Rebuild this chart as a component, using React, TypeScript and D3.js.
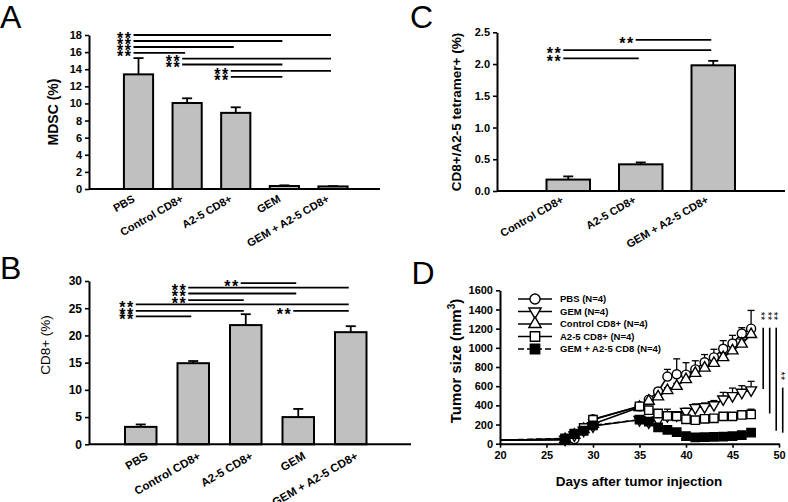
import React, { useEffect, useRef } from 'react';
import * as d3 from 'd3';

const FONT = '"Liberation Sans", Arial, Helvetica, sans-serif';

// ---- panel A / B / C data ----
const groups5 = ['PBS', 'Control CD8+', 'A2-5 CD8+', 'GEM', 'GEM + A2-5 CD8+'];
const groups3 = ['Control CD8+', 'A2-5 CD8+', 'GEM + A2-5 CD8+'];

const mdscMean = [13.4, 10.05, 8.9, 0.35, 0.3];
const mdscErr = [1.9, 0.55, 0.65, 0.08, 0.04];
const mdscTicks = [0, 2, 4, 6, 8, 10, 12, 14, 16, 18];

const cd8Mean = [3.2, 14.9, 21.9, 5.0, 20.6];
const cd8Err = [0.45, 0.4, 2.0, 1.5, 1.1];
const cd8Ticks = [0, 5, 10, 15, 20, 25, 30];

const tetMean = [0.18, 0.42, 1.98];
const tetErr = [0.05, 0.03, 0.07];
const tetTicks = [0, 0.5, 1.0, 1.5, 2.0, 2.5];

// significance brackets: [from, to, level in data units]
const sigA: [string, string, number][] = [
  ['PBS', 'GEM + A2-5 CD8+', 18.0],
  ['PBS', 'GEM', 17.3],
  ['PBS', 'A2-5 CD8+', 16.6],
  ['PBS', 'Control CD8+', 15.9],
  ['Control CD8+', 'GEM + A2-5 CD8+', 15.25],
  ['Control CD8+', 'GEM', 14.55],
  ['A2-5 CD8+', 'GEM + A2-5 CD8+', 13.8],
  ['A2-5 CD8+', 'GEM', 13.1],
];
const sigB: [string, string, number][] = [
  ['A2-5 CD8+', 'GEM', 29.6],
  ['Control CD8+', 'GEM + A2-5 CD8+', 28.8],
  ['Control CD8+', 'GEM', 27.7],
  ['Control CD8+', 'A2-5 CD8+', 26.5],
  ['PBS', 'GEM + A2-5 CD8+', 25.7],
  ['PBS', 'A2-5 CD8+', 24.5],
  ['GEM', 'GEM + A2-5 CD8+', 24.5],
  ['PBS', 'Control CD8+', 23.5],
];
const sigC: [string, string, number][] = [
  ['A2-5 CD8+', 'GEM + A2-5 CD8+', 2.38],
  ['Control CD8+', 'GEM + A2-5 CD8+', 2.22],
  ['Control CD8+', 'A2-5 CD8+', 2.09],
];

// ---- panel D data ----
const days = [20, 27, 28, 29, 30, 35, 36, 37, 38, 39, 40, 41, 42, 43, 44, 45, 46, 47];
const pbsSize = [38, 45, 48, 160, 255, 390, 460, 545, 700, 725, 720, 775, 850, 900, 990, 1045, 1150, 1200];
const pbsErr = [0, 8, 10, 15, 20, 25, 30, 35, 75, 160, 125, 90, 80, 85, 85, 85, 60, 190];
const gemSize = [38, 45, 90, 140, 185, 250, 225, 245, 290, 300, 335, 375, 385, 405, 465, 500, 535, 560];
const gemErr = [0, 5, 10, 15, 15, 20, 20, 25, 30, 30, 35, 40, 40, 45, 70, 80, 70, 90];
const ctrlSize = [38, 45, 90, 150, 205, 380, 445, 490, 555, 600, 670, 735, 790, 840, 900, 970, 1040, 1140];
const ctrlErr = [0, 5, 10, 15, 15, 20, 20, 25, 30, 30, 35, 35, 40, 40, 40, 45, 50, 60];
const a25Size = [38, 45, 100, 165, 250, 390, 350, 315, 290, 285, 255, 245, 260, 265, 285, 285, 300, 305];
const a25Err = [0, 5, 10, 15, 15, 20, 20, 30, 70, 30, 30, 20, 25, 25, 25, 30, 40, 55];
const comboSize = [38, 55, 105, 135, 190, 250, 230, 170, 145, 120, 80, 65, 68, 72, 73, 78, 90, 115];
const comboErr = [0, 5, 10, 10, 10, 15, 15, 15, 10, 10, 10, 8, 8, 8, 8, 8, 10, 15];
const tumorSeries = ['PBS (N=4)', 'GEM (N=4)', 'Control CD8+ (N=4)', 'A2-5 CD8+ (N=4)', 'GEM + A2-5 CD8 (N=4)'];
const dayTicks = [20, 25, 30, 35, 40, 45, 50];
const sizeTicks = [0, 200, 400, 600, 800, 1000, 1200, 1400, 1600];
// vertical significance lines in D: [day, top, bottom]
const sigD: [number, number, number][] = [
  [48.3, 1210, 570],
  [49.0, 1210, 315],
  [49.7, 1210, 135],
  [50.4, 585, 115],
];

type BarOpts = {
  cats: string[];
  means: number[];
  errs: number[];
  sig: [string, string, number][];
  ticks: number[];
  fmt: (d: number) => string;
  yDomain: [number, number];
  yRange: [number, number];
  bandRange: [number, number];
  axisX: [number, number];
  tickFont: number;
  labelFont: number;
  labelDx: number;
  labelDy: number;
  title: string;
  titleX: number;
  titleY: number;
  titleSize: number;
  titleWeight: string;
};

function drawBars(svg: any, o: BarOpts) {
  const y = d3.scaleLinear().domain(o.yDomain).range(o.yRange);
  const x = d3.scaleBand().domain(o.cats).range(o.bandRange).paddingInner(0.4).paddingOuter(0.2);
  const cx = (d: string) => (x(d) || 0) + x.bandwidth() / 2;
  const g = svg.append('g');

  g.selectAll('rect.bar')
    .data(o.cats)
    .enter()
    .append('rect')
    .attr('x', (d: string) => x(d))
    .attr('y', (_: string, i: number) => y(o.means[i]))
    .attr('width', x.bandwidth())
    .attr('height', (_: string, i: number) => y(0) - y(o.means[i]))
    .attr('fill', '#c0c0c0')
    .attr('stroke', '#000')
    .attr('stroke-width', 2);

  // error bars (upper only)
  o.cats.forEach((d, i) => {
    const top = y(o.means[i] + o.errs[i]);
    g.append('line').attr('x1', cx(d)).attr('x2', cx(d)).attr('y1', y(o.means[i])).attr('y2', top)
      .attr('stroke', '#000').attr('stroke-width', 1.8);
    g.append('line').attr('x1', cx(d) - 5).attr('x2', cx(d) + 5).attr('y1', top).attr('y2', top)
      .attr('stroke', '#000').attr('stroke-width', 1.8);
  });

  // y axis
  const ya = g.append('g')
    .attr('transform', `translate(${o.axisX[0]},0)`)
    .call(d3.axisLeft(y).tickValues(o.ticks).tickFormat(o.fmt as any).tickSize(4).tickSizeOuter(0).tickPadding(3));
  ya.select('.domain').attr('stroke-width', 2);
  ya.selectAll('.tick line').attr('stroke-width', 1.6);
  ya.attr('font-family', FONT).attr('font-size', o.tickFont).attr('font-weight', 'bold');

  // x axis line
  g.append('line').attr('x1', o.axisX[0]).attr('x2', o.axisX[1]).attr('y1', y(0)).attr('y2', y(0))
    .attr('stroke', '#000').attr('stroke-width', 2);

  // category labels
  o.cats.forEach((d) => {
    g.append('text')
      .attr('transform', `translate(${cx(d) + o.labelDx},${y(0) + o.labelDy}) rotate(-30)`)
      .attr('text-anchor', 'end')
      .attr('font-family', FONT)
      .attr('font-weight', 'bold')
      .attr('font-size', o.labelFont)
      .text(d);
  });

  // significance
  const starSize = 16;
  o.sig.forEach(([a, b, lvl]) => {
    const x1 = cx(a) - 5;
    const x2 = cx(b) - 2;
    const ly = y(lvl);
    g.append('line').attr('x1', x1).attr('x2', x2).attr('y1', ly).attr('y2', ly)
      .attr('stroke', '#000').attr('stroke-width', 1.8);
    g.append('text')
      .attr('x', x1 - 1)
      .attr('y', ly + starSize * 0.56)
      .attr('text-anchor', 'end')
      .attr('font-family', FONT)
      .attr('font-weight', 'bold')
      .attr('font-size', starSize)
      .attr('letter-spacing', 1.5)
      .text('**');
  });

  // y title
  g.append('text')
    .attr('transform', `translate(${o.titleX},${o.titleY}) rotate(-90)`)
    .attr('text-anchor', 'middle')
    .attr('dy', '0.35em')
    .attr('font-family', FONT)
    .attr('font-weight', o.titleWeight)
    .attr('font-size', o.titleSize)
    .text(o.title);
}

function drawTumor(svg: any) {
  const x = d3.scaleLinear().domain([20, 50]).range([500, 779]);
  const y = d3.scaleLinear().domain([0, 1600]).range([443.7, 290.3]);
  const g = svg.append('g');

  const series = [
    { name: tumorSeries[0], vals: pbsSize, errs: pbsErr, sym: d3.symbolCircle, size: 64, rot: 0, fill: '#fff', dash: null },
    { name: tumorSeries[1], vals: gemSize, errs: gemErr, sym: d3.symbolTriangle, size: 52, rot: 180, fill: '#fff', dash: null },
    { name: tumorSeries[2], vals: ctrlSize, errs: ctrlErr, sym: d3.symbolTriangle, size: 52, rot: 0, fill: '#fff', dash: null },
    { name: tumorSeries[3], vals: a25Size, errs: a25Err, sym: d3.symbolSquare, size: 70, rot: 0, fill: '#fff', dash: null },
    { name: tumorSeries[4], vals: comboSize, errs: comboErr, sym: d3.symbolSquare, size: 70, rot: 0, fill: '#000', dash: '6,3' },
  ];

  const line = d3.line<number>().x((_, i) => x(days[i])).y((v) => y(v));

  // error bars
  series.forEach((s) => {
    s.vals.forEach((v, i) => {
      if (i === 0 || !s.errs[i]) return;
      const top = y(v + s.errs[i]);
      g.append('line').attr('x1', x(days[i])).attr('x2', x(days[i])).attr('y1', y(v)).attr('y2', top)
        .attr('stroke', '#000').attr('stroke-width', 1.3);
      g.append('line').attr('x1', x(days[i]) - 3.5).attr('x2', x(days[i]) + 3.5).attr('y1', top).attr('y2', top)
        .attr('stroke', '#000').attr('stroke-width', 1.3);
    });
  });

  // lines
  series.forEach((s) => {
    g.append('path').attr('d', line(s.vals)).attr('fill', 'none').attr('stroke', '#000')
      .attr('stroke-width', 1.6).attr('stroke-dasharray', s.dash);
  });

  // markers (first point sits on the axis and has no symbol)
  series.forEach((s) => {
    const sym = d3.symbol().type(s.sym).size(s.size);
    s.vals.forEach((v, i) => {
      if (i === 0) return;
      g.append('path').attr('d', sym())
        .attr('transform', `translate(${x(days[i])},${y(v)}) rotate(${s.rot})`)
        .attr('fill', s.fill).attr('stroke', '#000').attr('stroke-width', 1.4);
    });
  });

  // axes
  const ya = g.append('g').attr('transform', 'translate(500,0)')
    .call(d3.axisLeft(y).tickValues(sizeTicks).tickFormat((d: any) => String(d)).tickSize(4).tickSizeOuter(0).tickPadding(3));
  const xa = g.append('g').attr('transform', `translate(0,${y(0)})`)
    .call(d3.axisBottom(x).tickValues(dayTicks).tickFormat((d: any) => String(d)).tickSize(4).tickSizeOuter(0).tickPadding(4));
  [ya, xa].forEach((a) => {
    a.select('.domain').attr('stroke-width', 2);
    a.selectAll('.tick line').attr('stroke-width', 1.6);
    a.attr('font-family', FONT).attr('font-size', 11).attr('font-weight', 'bold');
  });

  // significance (vertical)
  sigD.forEach(([d, top, bot]) => {
    g.append('line').attr('x1', x(d)).attr('x2', x(d)).attr('y1', y(top)).attr('y2', y(bot))
      .attr('stroke', '#000').attr('stroke-width', 1.6);
    g.append('text')
      .attr('transform', `translate(${x(d) - 6},${y(top) - 16}) rotate(90)`)
      .attr('font-family', FONT)
      .attr('font-size', 11)
      .attr('fill', '#000')
      .text('**');
  });

  // legend
  series.forEach((s, i) => {
    const ly = 299 + i * 12.5;
    g.append('line').attr('x1', 518).attr('x2', 552).attr('y1', ly).attr('y2', ly)
      .attr('stroke', '#000').attr('stroke-width', 1.6).attr('stroke-dasharray', s.dash);
    g.append('path').attr('d', d3.symbol().type(s.sym).size(s.size * 1.25)())
      .attr('transform', `translate(535,${ly}) rotate(${s.rot})`)
      .attr('fill', s.fill).attr('stroke', '#000').attr('stroke-width', 1.4);
    g.append('text').attr('x', 560).attr('y', ly).attr('dy', '0.35em')
      .attr('font-family', FONT).attr('font-weight', 'bold').attr('font-size', 9.5)
      .text(s.name);
  });

  // titles
  const t = g.append('text')
    .attr('transform', 'translate(455.7,361) rotate(-90)')
    .attr('text-anchor', 'middle')
    .attr('dy', '0.35em')
    .attr('font-family', FONT)
    .attr('font-weight', 'bold')
    .attr('font-size', 15);
  t.append('tspan').text('Tumor size (mm');
  t.append('tspan').attr('dy', -6).attr('font-size', 10).text('3');
  t.append('tspan').attr('dy', 6).text(')');

  g.append('text')
    .attr('x', 639).attr('y', 486)
    .attr('text-anchor', 'middle')
    .attr('font-family', FONT)
    .attr('font-weight', 'bold')
    .attr('font-size', 13.5)
    .text('Days after tumor injection');
}

export default function App() {
  const ref = useRef<SVGSVGElement>(null);

  useEffect(() => {
    const svg = d3.select(ref.current);
    svg.selectAll('*').remove();

    drawBars(svg, {
      cats: groups5, means: mdscMean, errs: mdscErr, sig: sigA, ticks: mdscTicks,
      fmt: (d) => String(d), yDomain: [0, 18], yRange: [189, 35],
      bandRange: [114.2, 357.3], axisX: [89, 380], tickFont: 11, labelFont: 11,
      labelDx: -3, labelDy: 12, title: 'MDSC (%)', titleX: 53, titleY: 112, titleSize: 14, titleWeight: 'bold',
    });
    drawBars(svg, {
      cats: groups5, means: cd8Mean, errs: cd8Err, sig: sigB, ticks: cd8Ticks,
      fmt: (d) => String(d), yDomain: [0, 30], yRange: [444.3, 281],
      bandRange: [114.5, 377], axisX: [89, 411], tickFont: 12, labelFont: 11.5,
      labelDx: 8, labelDy: 14, title: 'CD8+ (%)', titleX: 45, titleY: 345, titleSize: 13.5, titleWeight: 'normal',
    });
    drawBars(svg, {
      cats: groups3, means: tetMean, errs: tetErr, sig: sigC, ticks: tetTicks,
      fmt: d3.format('.1f'), yDomain: [0, 2.5], yRange: [191, 32.3],
      bandRange: [532, 749.5], axisX: [497, 785], tickFont: 11, labelFont: 11,
      labelDx: -4, labelDy: 11, title: 'CD8+/A2-5 tetramer+ (%)', titleX: 456.7, titleY: 112, titleSize: 13.5, titleWeight: 'bold',
    });
    drawTumor(svg);

    // panel letters
    [['A', 0, 28], ['B', 0, 279], ['C', 410, 28], ['D', 411.5, 284]].forEach(([l, lx, ly]) => {
      svg.append('text').attr('x', lx as number).attr('y', ly as number)
        .attr('font-family', FONT).attr('font-size', 32).text(l as string);
    });
  }, []);

  return (
    <svg
      ref={ref}
      width={788}
      height={502}
      style={{ position: 'absolute', left: 0, top: 0, background: '#fff' }}
    />
  );
}
